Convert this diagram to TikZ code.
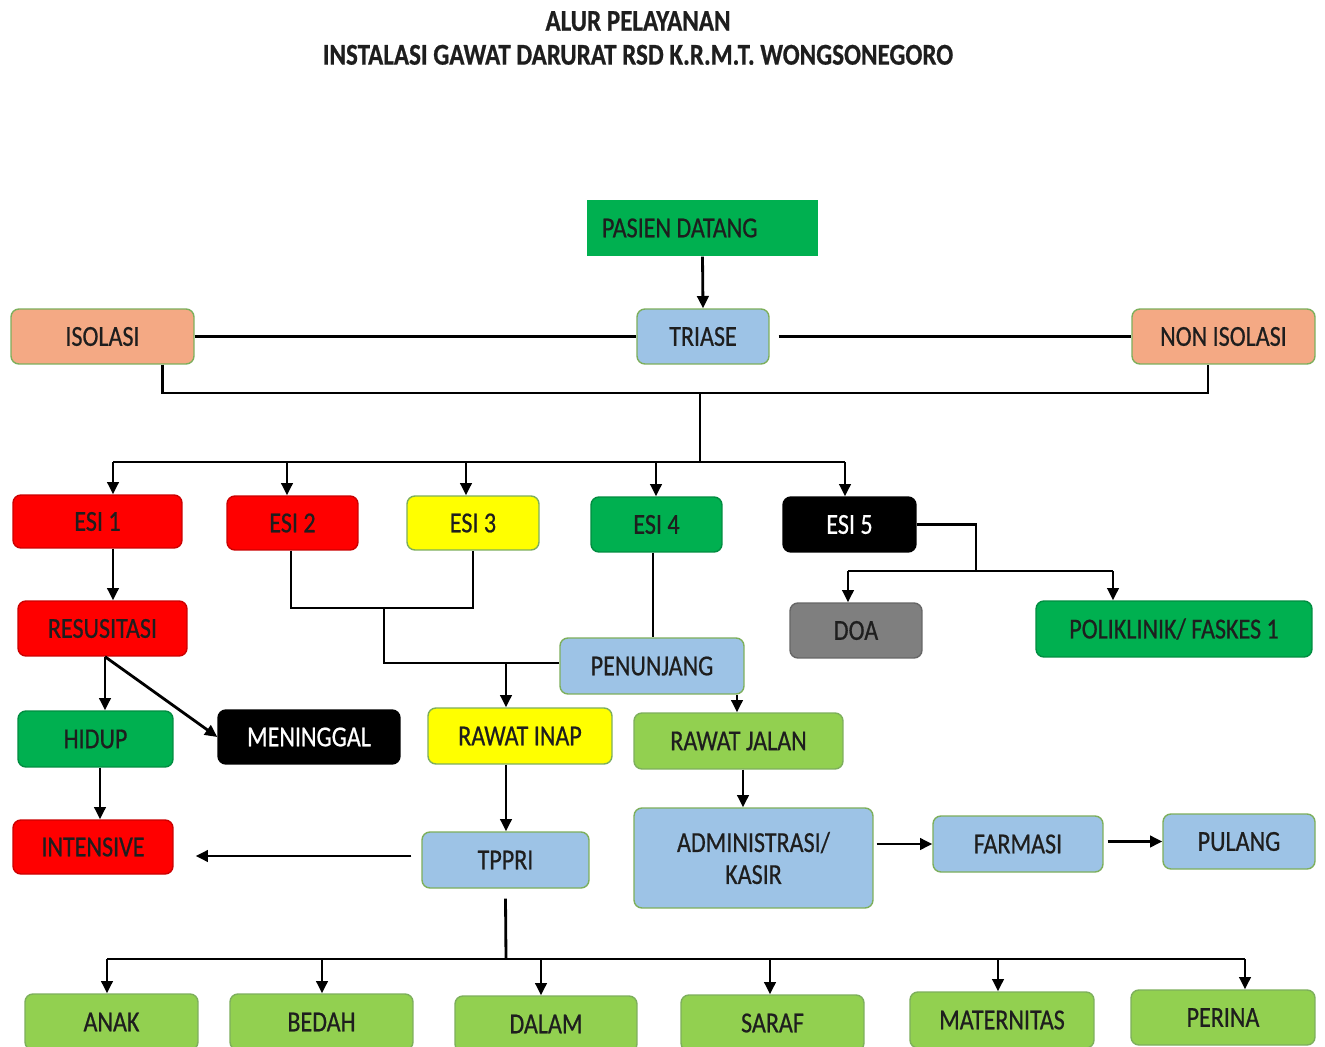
\documentclass[tikz,border=0pt]{standalone}
\usepackage{fontspec}
\setmainfont[FakeStretch=0.83,FakeBold=0.6]{Carlito}
\usetikzlibrary{arrows.meta,calc}
\definecolor{gD}{HTML}{00B050}
\definecolor{gL}{HTML}{92D050}
\definecolor{bL}{HTML}{9DC3E6}
\definecolor{sal}{HTML}{F4A984}
\definecolor{rd}{HTML}{FF0000}
\definecolor{yl}{HTML}{FFFF00}
\definecolor{gy}{HTML}{7F7F7F}
\definecolor{bord}{HTML}{7DAF5C}
\definecolor{txt}{HTML}{1E1E1E}
\begin{document}
\begin{tikzpicture}[x=0.02cm,y=-0.02cm,
  box/.style 2 args={rectangle, rounded corners=4.5pt, draw=bord, line width=0.8pt, inner sep=0pt,
    minimum width=#1cm, minimum height=#2cm,
    text=txt, font=\fontsize{16.5}{19.3}\selectfont, align=center},
  ln/.style={line width=1.6pt, draw=black},
  arr/.style={ln, -{Triangle[length=7pt,width=6.5pt]}}]
\useasboundingbox (0,0) rectangle (1325,1047);
\fill[white] (0,0) rectangle (1325,1047);

% title
\node[font=\bfseries\fontsize{17.2}{19.3}\selectfont, text=txt, align=center] (title) at (638,38)
  {ALUR PELAYANAN\\INSTALASI GAWAT DARURAT RSD K.R.M.T. WONGSONEGORO};

% boxes
\node[box={4.62}{1.12}, sharp corners, draw=none, fill=gD, text width=4.02cm, inner xsep=0.3cm, align=flush left] (pasien) at (702.5,228) {PASIEN DATANG};
\node[box={3.66}{1.10}, fill=sal] (isolasi) at (102.5,336.5) {ISOLASI};
\node[box={2.64}{1.10}, fill=bL] (triase) at (703,336.5) {TRIASE};
\node[box={3.66}{1.10}, fill=sal] (noniso) at (1223.5,336.5) {NON ISOLASI};

\node[box={3.38}{1.06}, fill=rd, draw=rd!80!black] (esi1) at (97.5,521.5) {ESI 1};
\node[box={2.62}{1.08}, fill=rd, draw=rd!80!black] (esi2) at (292.5,523) {ESI 2};
\node[box={2.64}{1.08}, fill=yl] (esi3) at (473,523) {ESI 3};
\node[box={2.62}{1.10}, fill=gD, draw=gD!80!black] (esi4) at (656.5,524.5) {ESI 4};
\node[box={2.66}{1.10}, fill=black, draw=black, text=white] (esi5) at (849.5,524.5) {ESI 5};

\node[box={3.38}{1.10}, fill=rd, draw=rd!80!black] (resus) at (102.5,628.5) {RESUSITASI};
\node[box={2.64}{1.10}, fill=gy, draw=gy!80!black] (doa) at (856,630.5) {DOA};
\node[box={5.52}{1.12}, fill=gD, draw=gD!80!black] (poli) at (1174,629) {POLIKLINIK/ FASKES 1};
\node[box={3.68}{1.12}, fill=bL] (penunjang) at (652,666) {PENUNJANG};

\node[box={3.10}{1.12}, fill=gD, draw=gD!80!black] (hidup) at (95.5,739) {HIDUP};
\node[box={3.64}{1.08}, fill=black, draw=black, text=white] (meninggal) at (309,737) {MENINGGAL};
\node[box={3.68}{1.12}, fill=yl] (rawatinap) at (520,736) {RAWAT INAP};
\node[box={4.18}{1.12}, fill=gL] (rawatjalan) at (738.5,741) {RAWAT JALAN};

\node[box={3.20}{1.08}, fill=rd, draw=rd!80!black] (intensive) at (93,847) {INTENSIVE};
\node[box={3.34}{1.12}, fill=bL] (tppri) at (505.5,860) {TPPRI};
\node[box={4.78}{2.00}, fill=bL, font=\fontsize{16.5}{18.2}\selectfont] (admin) at (753.5,858) {ADMINISTRASI/\\KASIR};
\node[box={3.40}{1.12}, fill=bL] (farmasi) at (1018,844) {FARMASI};
\node[box={3.04}{1.10}, fill=bL] (pulang) at (1239,841.5) {PULANG};

\node[box={3.46}{1.12}, fill=gL] (anak) at (111.5,1022) {ANAK};
\node[box={3.66}{1.12}, fill=gL] (bedah) at (321.5,1022) {BEDAH};
\node[box={3.64}{1.12}, fill=gL] (dalam) at (546,1024) {DALAM};
\node[box={3.66}{1.12}, fill=gL] (saraf) at (772.5,1023) {SARAF};
\node[box={3.68}{1.12}, fill=gL] (maternitas) at (1002,1020) {MATERNITAS};
\node[box={3.68}{1.10}, fill=gL] (perina) at (1223,1017.5) {PERINA};

% guide coordinates
\coordinate (j1) at (700,393);
\coordinate (bus1) at (700,462);
\coordinate (bL1) at (113,462);
\coordinate (bR1) at (845,462);
\coordinate (x287) at (287,0);
\coordinate (x466) at (466,0);
\coordinate (x656) at (656,0);
\coordinate (x291) at (291,0);
\coordinate (x473) at (473,0);
\coordinate (m23) at (384,608);
\coordinate (x506) at (506,0);
\coordinate (x737) at (737,0);
\coordinate (x105) at (105,0);
\coordinate (x100) at (100,0);
\coordinate (x743) at (743,0);
\coordinate (e5) at (976,571);
\coordinate (dl) at (848,571);
\coordinate (dr) at (1113,571);
\coordinate (tb) at (506,959);
\coordinate (bl) at (107,959);
\coordinate (br) at (1245,959);
\coordinate (x322) at (322,0);
\coordinate (x541) at (541,0);
\coordinate (x770) at (770,0);
\coordinate (x998) at (998,0);

% connectors
\draw[arr] (pasien.south) -- (triase.north);
\draw[ln] (isolasi.east) -- (triase.west);
\draw[ln] ($(triase.east)+(9,0)$) -- (noniso.west);
\draw[ln] ($(isolasi.south)+(60,0)$) |- (j1) -| ($(noniso.south)+(-15.5,0)$);
\draw[ln] (j1) -- (bus1);
\draw[ln] (bL1) -- (bR1);
\draw[arr] (bL1) -- (bL1 |- esi1.north);
\draw[arr] (x287 |- bL1) -- (x287 |- esi2.north);
\draw[arr] (x466 |- bL1) -- (x466 |- esi3.north);
\draw[arr] (x656 |- bL1) -- (x656 |- esi4.north);
\draw[arr] (bR1) -- (bR1 |- esi5.north);

\draw[ln] (esi5.east) -| (e5);
\draw[ln] (dl) -- (dr);
\draw[arr] (dl) -- (dl |- doa.north);
\draw[arr] (dr) -- (dr |- poli.north);

\draw[arr] (bL1 |- esi1.south) -- (bL1 |- resus.north);
\draw[ln] (x291 |- esi2.south) |- (m23) -| (x473 |- esi3.south);
\draw[ln] (m23) |- ($(penunjang.west)+(0,-3)$);
\draw[arr] ($(x506 |- penunjang.west)+(0,-3)$) -- (x506 |- rawatinap.north);
\draw[ln] ($(esi4.south)+(-3.5,0)$) -- ($(esi4.south |- penunjang.north)+(-3.5,0)$);
\draw[arr] (x737 |- penunjang.south) -- (x737 |- rawatjalan.north);

\draw[arr] (x105 |- resus.south) -- (x105 |- hidup.north);
\draw[arr] (x105 |- resus.south) -- (meninggal.west);
\draw[arr] (x100 |- hidup.south) -- (x100 |- intensive.north);
\draw[arr] (x506 |- rawatinap.south) -- (x506 |- tppri.north);
\draw[arr] ($(tppri.west)+(-10,-4)$) -- ($(tppri.west -| intensive.east)+(22,-4)$);
\draw[arr] (x743 |- rawatjalan.south) -- (x743 |- admin.north);
\draw[arr] ($(farmasi.west -| admin.east)+(3,0)$) -- (farmasi.west);
\draw[arr] ($(pulang.west -| farmasi.east)+(4,0)$) -- (pulang.west);

\draw[ln] ($(tppri.south)+(0,10)$) -- (tb);
\draw[ln] (bl) -- (br);
\draw[arr] (bl) -- (bl |- anak.north);
\draw[arr] (x322 |- bl) -- (x322 |- bedah.north);
\draw[arr] (x541 |- bl) -- (x541 |- dalam.north);
\draw[arr] (x770 |- bl) -- (x770 |- saraf.north);
\draw[arr] (x998 |- bl) -- (x998 |- maternitas.north);
\draw[arr] (br) -- (br |- perina.north);
\end{tikzpicture}
\end{document}
